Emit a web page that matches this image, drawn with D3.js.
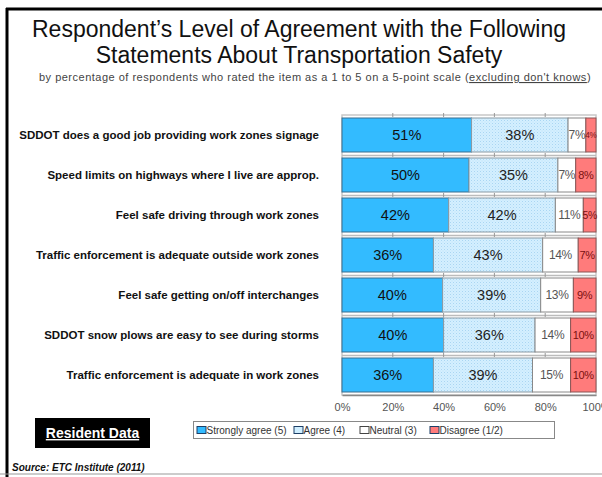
<!DOCTYPE html>
<html>
<head>
<meta charset="utf-8">
<script src="https://cdn.jsdelivr.net/npm/d3@7"></script>
<style>
  html, body { margin: 0; padding: 0; background: #fff; }
  svg { display: block; font-family: Arial, "Liberation Sans", sans-serif; }
</style>
</head>
<body>
<svg id="chart" width="602" height="477"></svg>
<script>
// ---- data ----
const categories = [
  "SDDOT does a good job providing work zones signage",
  "Speed limits on highways where I live are approp.",
  "Feel safe driving through work zones",
  "Traffic enforcement is adequate outside work zones",
  "Feel safe getting on/off interchanges",
  "SDDOT snow plows are easy to see during storms",
  "Traffic enforcement is adequate in work zones"
];
const seriesNames = ["Strongly agree (5)", "Agree (4)", "Neutral (3)", "Disagree (1/2)"];
const stronglyAgree = [51, 50, 42, 36, 40, 40, 36];
const agree        = [38, 35, 42, 43, 39, 36, 39];
const neutral      = [7, 7, 11, 14, 13, 14, 15];
const disagree     = [4, 8, 5, 7, 9, 10, 10];
const tickValues = [0, 0.2, 0.4, 0.6, 0.8, 1.0];
const tickLabels = ["0%", "20%", "40%", "60%", "80%", "100%"];

const seriesKeys = ["sa", "ag", "ne", "di"];
const rows = categories.map((c, i) => ({
  cat: c, sa: stronglyAgree[i], ag: agree[i], ne: neutral[i], di: disagree[i]
}));

const svg = d3.select("#chart");

// pattern for "Agree"
const defs = svg.append("defs");
const pat = defs.append("pattern").attr("id", "dots")
  .attr("width", 3).attr("height", 3).attr("patternUnits", "userSpaceOnUse");
pat.append("rect").attr("width", 3).attr("height", 3).attr("fill", "#d4efff");
pat.append("rect").attr("x", 0).attr("y", 0).attr("width", 1).attr("height", 1).attr("fill", "#a9d6f2");
pat.append("rect").attr("x", 1.5).attr("y", 1.5).attr("width", 1).attr("height", 1).attr("fill", "#bfe3f8");

const fills = { sa: "#33bbff", ag: "url(#dots)", ne: "#ffffff", di: "#ff7b7b" };
const strokes = { sa: "#3b6f8f", ag: "#8a9aa4", ne: "#888888", di: "#8a5555" };

// frame
svg.append("line").attr("x1", 6).attr("x2", 602).attr("y1", 9).attr("y2", 9)
  .attr("stroke", "#000").attr("stroke-width", 3);
svg.append("line").attr("x1", 7).attr("x2", 7).attr("y1", 8).attr("y2", 477)
  .attr("stroke", "#000").attr("stroke-width", 3);
svg.append("line").attr("x1", 0).attr("x2", 602).attr("y1", 474).attr("y2", 474)
  .attr("stroke", "#999").attr("stroke-width", 1);

// title
svg.append("text").attr("x", 299).attr("y", 37).attr("text-anchor", "middle")
  .attr("font-size", 23).attr("fill", "#111")
  .text("Respondent\u2019s Level of Agreement with the Following");
svg.append("text").attr("x", 299).attr("y", 63).attr("text-anchor", "middle")
  .attr("font-size", 23).attr("fill", "#111")
  .text("Statements About Transportation Safety");
const sub = svg.append("text").attr("x", 315).attr("y", 81).attr("text-anchor", "middle")
  .attr("font-size", 11).attr("letter-spacing", 0.5).attr("fill", "#444");
sub.append("tspan").text("by percentage of respondents who rated the item as a 1 to 5 on a 5-point scale (");
sub.append("tspan").attr("text-decoration", "underline").text("excluding don't knows");
sub.append("tspan").text(")");

// scales
const x = d3.scaleLinear().domain([0, 1]).range([342, 596]);
const y = d3.scaleBand().domain(categories).range([115, 395]).paddingInner(0.15).paddingOuter(0.075);

const stack = d3.stack().keys(seriesKeys).offset(d3.stackOffsetExpand);
const stacked = stack(rows);

// plot area background & frame
svg.append("rect").attr("x", x(0)).attr("y", 115).attr("width", x(1) - x(0)).attr("height", 280)
  .attr("fill", "#fff").attr("stroke", "#c8c8c8").attr("stroke-width", 1.5);

// gap lines between categories
svg.append("g").selectAll("line").data(categories.slice(1)).join("line")
  .attr("x1", x(0)).attr("x2", x(1))
  .attr("y1", d => y(d) - 2.5).attr("y2", d => y(d) - 2.5)
  .attr("stroke", "#bbbbbb").attr("stroke-width", 1.5);

// grid tick marks
svg.append("g").selectAll("g").data(tickValues.slice(1, -1)).join("g").each(function(t) {
  d3.select(this).selectAll("line").data(categories).join("line")
    .attr("x1", x(t)).attr("x2", x(t))
    .attr("y1", d => y(d) - 5).attr("y2", d => y(d) - 1)
    .attr("stroke", "#999").attr("stroke-width", 1);
});

// bars
const layer = svg.append("g").selectAll("g").data(stacked).join("g");
layer.selectAll("rect").data(s => s.map(d => ({ key: s.key, d }))).join("rect")
  .attr("x", o => x(o.d[0]))
  .attr("y", o => y(o.d.data.cat))
  .attr("width", o => x(o.d[1]) - x(o.d[0]))
  .attr("height", y.bandwidth())
  .attr("fill", o => fills[o.key])
  .attr("stroke", o => strokes[o.key])
  .attr("stroke-width", 1);

// value labels
const labelStyle = {
  sa: { size: 14.5, color: "#111" },
  ag: { size: 14.5, color: "#222" },
  ne: { size: 12, color: "#555" },
  di: { size: 11, color: "#7a1010" }
};
layer.selectAll("text").data(s => s.map(d => ({ key: s.key, d }))).join("text")
  .attr("x", o => (x(o.d[0]) + x(o.d[1])) / 2)
  .attr("y", o => y(o.d.data.cat) + y.bandwidth() / 2)
  .attr("dy", "0.36em")
  .attr("text-anchor", "middle")
  .attr("fill", o => labelStyle[o.key].color)
  .attr("font-size", o => {
    const w = x(o.d[1]) - x(o.d[0]);
    const v = o.d.data[o.key];
    const chars = String(v).length + 1;
    const fit = (w - 1) / (chars * 0.56);
    return Math.min(labelStyle[o.key].size, fit);
  })
  .attr("letter-spacing", o => (o.key === "ne" || o.key === "di") ? -0.3 : 0)
  .text(o => o.d.data[o.key] + "%");

// category labels
svg.append("g").selectAll("text").data(categories).join("text")
  .attr("x", 319)
  .attr("y", d => y(d) + y.bandwidth() / 2)
  .attr("dy", "0.36em")
  .attr("text-anchor", "end")
  .attr("font-size", 11.5)
  .attr("font-weight", "bold")
  .attr("fill", "#111")
  .text(d => d);

// x axis
const xAxis = d3.axisBottom(x).tickValues(tickValues).tickFormat((d, i) => tickLabels[i]).tickSize(0).tickPadding(8);
const gx = svg.append("g").attr("transform", "translate(0,395)").call(xAxis);
gx.select(".domain").attr("stroke", "#888").attr("stroke-width", 1.5);
gx.selectAll("text").attr("font-size", 11).attr("fill", "#555")
  .attr("font-family", "Arial, 'Liberation Sans', sans-serif");

// Resident Data box
svg.append("rect").attr("x", 35).attr("y", 418).attr("width", 115).attr("height", 30).attr("fill", "#000");
svg.append("text").attr("x", 92.5).attr("y", 438).attr("text-anchor", "middle")
  .attr("font-size", 14).attr("font-weight", "bold").attr("fill", "#fff")
  .attr("text-decoration", "underline").text("Resident Data");

// legend
const lg = svg.append("g");
lg.append("rect").attr("x", 193.5).attr("y", 421.5).attr("width", 361).attr("height", 17)
  .attr("fill", "#fff").attr("stroke", "#888");
const legendX = [197, 294, 360, 430];
const legendFill = ["#33bbff", "#cfeeff", "#ffffff", "#ff7b7b"];
const legendStroke = ["#1d3f66", "#1d3f66", "#444", "#1d3f66"];
seriesNames.forEach((n, i) => {
  lg.append("rect").attr("x", legendX[i]).attr("y", 426.5).attr("width", 9).attr("height", 7)
    .attr("fill", legendFill[i]).attr("stroke", legendStroke[i]).attr("stroke-width", 1);
  lg.append("text").attr("x", legendX[i] + 9.5).attr("y", 434).attr("font-size", 10)
    .attr("fill", "#333").text(n);
});

// source
svg.append("text").attr("x", 12).attr("y", 471).attr("font-size", 10)
  .attr("font-weight", "bold").attr("font-style", "italic").attr("fill", "#111")
  .text("Source:  ETC Institute (2011)");
</script>
</body>
</html>
